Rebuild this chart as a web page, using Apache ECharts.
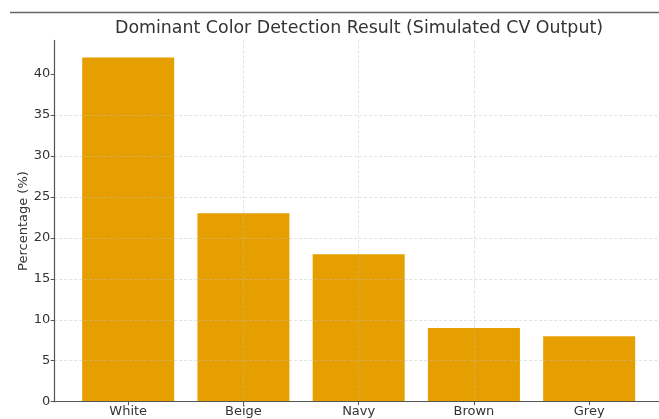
<!DOCTYPE html>
<html>
<head>
<meta charset="utf-8">
<script src="https://cdn.jsdelivr.net/npm/echarts@6/dist/echarts.min.js"></script>
<style>
html,body{margin:0;padding:0;background:#fff;}
#chart{width:659px;height:419px;}
</style>
</head>
<body>
<div id="chart"></div>
<script>
var categories = ['White', 'Beige', 'Navy', 'Brown', 'Grey'];
var percentages = [42, 23, 18, 9, 8];
var yTicks = [0, 5, 10, 15, 20, 25, 30, 35, 40];

var chart = echarts.init(document.getElementById('chart'), null, {renderer: 'canvas'});
var font = 'DejaVu Sans';
var catIdx = categories.map(function (c, i) { return i; });
var barData = categories.map(function (c, i) { return [i, percentages[i]]; });
var gridStyle = {color: 'rgba(190,190,190,0.55)', type: [3, 2], width: 0.8};

chart.setOption({
  animation: false,
  backgroundColor: '#ffffff',
  title: {
    text: 'Dominant Color Detection Result (Simulated CV Output)',
    left: 354, top: 15, textAlign: 'center',
    textStyle: {fontFamily: font, fontSize: 17.4, fontWeight: 'normal', color: '#333'}
  },
  graphic: [{
    type: 'line', shape: {x1: 10, y1: 12.5, x2: 659, y2: 12.5},
    style: {stroke: '#666', lineWidth: 1.5}, silent: true
  }],
  grid: {left: 54.2, right: 0, top: 40.4, bottom: 17.3, containLabel: false},
  xAxis: {
    type: 'value', min: -0.642, max: 4.606, z: 5,
    axisLine: {show: true, onZero: false, lineStyle: {color: '#555', width: 1.2}},
    axisTick: {show: true, length: 3.5, lineStyle: {color: '#555'}, customValues: catIdx},
    axisLabel: {
      fontFamily: font, fontSize: 13, color: '#333', margin: 3,
      customValues: catIdx,
      formatter: function (v) { return categories[Math.round(v)] || ''; }
    },
    splitLine: {show: true, showMinLine: false, showMaxLine: false, lineStyle: gridStyle}
  },
  yAxis: {
    type: 'value', min: 0, max: 44.1, z: 5,
    name: 'Percentage (%)', nameLocation: 'middle', nameGap: 24, nameMoveOverlap: false,
    nameTextStyle: {fontFamily: font, fontSize: 13, color: '#333'},
    axisLine: {show: true, onZero: false, lineStyle: {color: '#555', width: 1.2}},
    axisTick: {show: true, length: 3.5, lineStyle: {color: '#555'}, customValues: yTicks},
    axisLabel: {fontFamily: font, fontSize: 13, color: '#333', margin: 4, customValues: yTicks},
    splitLine: {show: true, showMinLine: false, showMaxLine: false, lineStyle: gridStyle}
  },
  series: [{
    type: 'bar', data: barData, barWidth: 92,
    itemStyle: {color: '#E69F00'}, z: 1
  }]
});
</script>
</body>
</html>
